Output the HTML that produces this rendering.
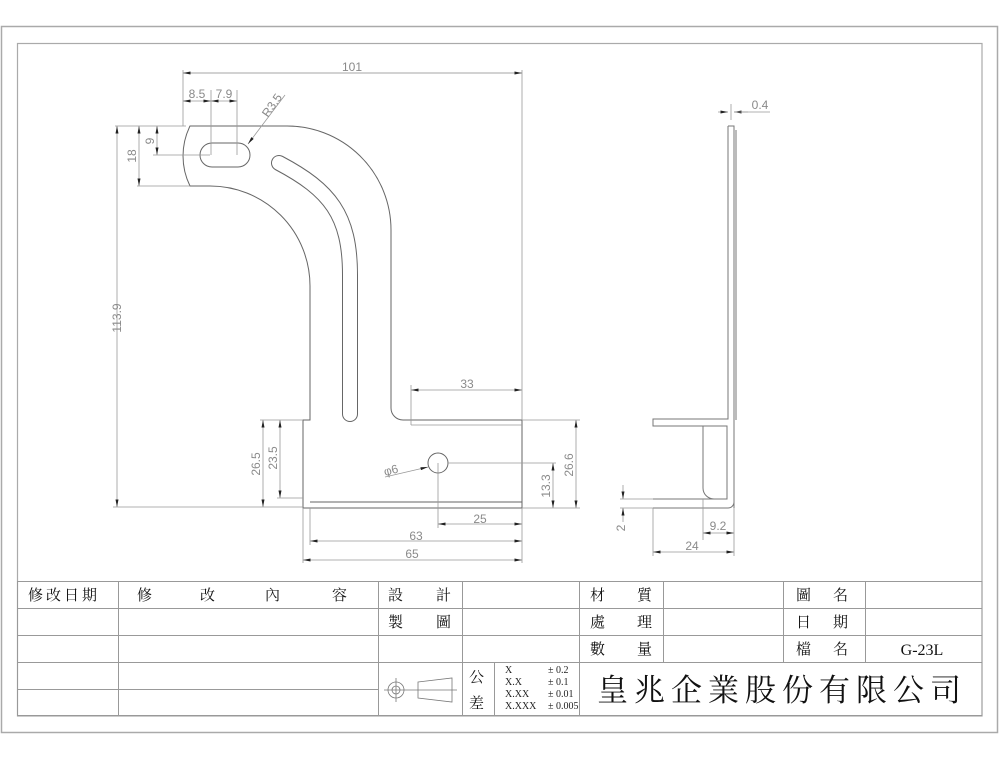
<!DOCTYPE html>
<html><head><meta charset="utf-8"><style>
html,body{margin:0;padding:0;background:#fff;}
svg{display:block;}
.d{font-family:"Liberation Sans",sans-serif;font-size:12px;fill:#8a8a8a;}
.c{font-family:"Liberation Serif","Noto Serif CJK SC",serif;font-size:15px;fill:#111;}
.t{font-family:"Liberation Serif",serif;font-size:10px;fill:#222;}
</style></head><body>
<svg width="999" height="758" viewBox="0 0 999 758" xmlns="http://www.w3.org/2000/svg">
<defs>
<marker id="a" viewBox="0 0 10 4" refX="10" refY="2" markerWidth="8" markerHeight="3" orient="auto-start-reverse" markerUnits="userSpaceOnUse"><path d="M0,0L10,2L0,4z" fill="#222"/></marker>
</defs>
<rect x="1.5" y="26.5" width="996" height="706" fill="none" stroke="#aaa" stroke-width="1.5"/>
<rect x="17.5" y="43.5" width="964.5" height="672.5" fill="none" stroke="#aaa" stroke-width="1.2"/>

<g fill="none" stroke="#666" stroke-width="1">
<path d="M190,126 H285 A104,104 0 0 1 391,230 V408 A12,12 0 0 0 403,420 H522 V508 H303 V420 H310 V286 A100,100 0 0 0 210,186 H190 A68,68 0 0 1 190,126 Z"/>
<path d="M310,502 H522"/>
<path d="M212,143 H238 A12,12 0 0 1 238,167 H212 A12,12 0 0 1 212,143 Z"/>
<circle cx="438" cy="463" r="10"/>
</g>
<path d="M279,163 C330,190 350,215 350,275 V414" fill="none" stroke="#666" stroke-width="16" stroke-linecap="round"/>
<path d="M279,163 C330,190 350,215 350,275 V414" fill="none" stroke="#fff" stroke-width="14" stroke-linecap="round"/>

<g fill="none" stroke="#999" stroke-width="0.8">
<path d="M183,70 V126 M522,70 V420"/>
<path d="M183,73 H522" stroke="#888" marker-start="url(#a)" marker-end="url(#a)"/>
<path d="M211,90 V155 M237,90 V155"/>
<path d="M183,101 H211" marker-start="url(#a)" marker-end="url(#a)"/>
<path d="M211,101 H237" marker-start="url(#a)" marker-end="url(#a)"/>
<path d="M285,95 L248,144" marker-end="url(#a)"/>
<path d="M115,126 H186 M113,507 H303 M137,186 H190 M153,155 H210"/>
<path d="M117,126 V507" marker-start="url(#a)" marker-end="url(#a)"/>
<path d="M139,126 V186" marker-start="url(#a)" marker-end="url(#a)"/>
<path d="M157,126 V155" marker-start="url(#a)" marker-end="url(#a)"/>
<path d="M260,420 H303 M277,498 H303"/>
<path d="M263,420 V507" marker-start="url(#a)" marker-end="url(#a)"/>
<path d="M280,420 V498" marker-start="url(#a)" marker-end="url(#a)"/>
<path d="M411,385 V425 M411,425 H522"/>
<path d="M411,390 H522" marker-start="url(#a)" marker-end="url(#a)"/>
<path d="M385,477 L428,467" marker-end="url(#a)"/>
<path d="M448,463 H556 M522,420 H580 M522,508 H580"/>
<path d="M553,463 V508" marker-start="url(#a)" marker-end="url(#a)"/>
<path d="M576,420 V508" marker-start="url(#a)" marker-end="url(#a)"/>
<path d="M438,463 V528 M303,508 V563 M310,508 V545 M522,508 V563"/>
<path d="M438,524 H522" marker-start="url(#a)" marker-end="url(#a)"/>
<path d="M310,541 H522" marker-start="url(#a)" marker-end="url(#a)"/>
<path d="M303,560 H522" marker-start="url(#a)" marker-end="url(#a)"/>
</g>
<g class="d">
<text x="352" y="71" text-anchor="middle">101</text>
<text x="197" y="98" text-anchor="middle">8.5</text>
<text x="224" y="98" text-anchor="middle">7.9</text>
<text transform="translate(268,118) rotate(-55)">R3.5</text>
<text transform="translate(121,318) rotate(-90)" text-anchor="middle">113.9</text>
<text transform="translate(136,156) rotate(-90)" text-anchor="middle">18</text>
<text transform="translate(154,141) rotate(-90)" text-anchor="middle">9</text>
<text transform="translate(260,464) rotate(-90)" text-anchor="middle">26.5</text>
<text transform="translate(277,458) rotate(-90)" text-anchor="middle">23.5</text>
<text x="467" y="388" text-anchor="middle">33</text>
<text transform="translate(385,476) rotate(-15)">φ6</text>
<text transform="translate(550,486) rotate(-90)" text-anchor="middle">13.3</text>
<text transform="translate(573,465) rotate(-90)" text-anchor="middle">26.6</text>
<text x="480" y="523" text-anchor="middle">25</text>
<text x="416" y="540" text-anchor="middle">63</text>
<text x="412" y="558" text-anchor="middle">65</text>
</g>

<g fill="none" stroke="#777" stroke-width="1">
<path d="M728,126 H734 V508 M728,126 V419 H653 V426 H727 V499 H653 M734,502 A6,6 0 0 1 728,508 H653"/>
<path d="M703,426 V488 A11,11 0 0 0 714,499"/>
<path d="M736,130 V420"/>
</g>
<g fill="none" stroke="#999" stroke-width="0.8">
<path d="M731,104 V120 M718,112 H728" marker-end="url(#a)"/>
<path d="M748,112 H734" marker-end="url(#a)"/>
<path d="M734,112 H770"/>
<path d="M620,499 H653 M620,508 H653"/>
<path d="M623,485 V499" marker-end="url(#a)"/>
<path d="M623,522 V508" marker-end="url(#a)"/>
<path d="M653,508 V556 M703,499 V540 M734,508 V556"/>
<path d="M703,533 H734" marker-start="url(#a)" marker-end="url(#a)"/>
<path d="M653,552 H734" marker-start="url(#a)" marker-end="url(#a)"/>
</g>
<g class="d">
<text x="760" y="109" text-anchor="middle">0.4</text>
<text transform="translate(625,528) rotate(-90)" text-anchor="middle">2</text>
<text x="718" y="530" text-anchor="middle">9.2</text>
<text x="692" y="550" text-anchor="middle">24</text>
</g>

<g fill="none" stroke="#999" stroke-width="1">
<rect x="17.5" y="581.5" width="964.5" height="134"/>
<path d="M17,608.5 H982 M17,635.5 H982 M17,662.5 H982 M17,689.5 H378"/>
<path d="M118.5,581 V716 M378.5,581 V716 M462.5,581 V716 M579.5,581 V716 M663.5,581 V662 M783.5,581 V662 M865.5,581 V662 M494.5,662 V716"/>
</g>
<g class="c">
<text x="28" y="600" letter-spacing="3">修改日期</text>
<text x="137" y="600">修</text><text x="200" y="600">改</text><text x="265" y="600">內</text><text x="332" y="600">容</text>
<text x="388" y="600">設</text><text x="436" y="600">計</text>
<text x="388" y="627">製</text><text x="436" y="627">圖</text>
<text x="590" y="600">材</text><text x="637" y="600">質</text>
<text x="590" y="627">處</text><text x="637" y="627">理</text>
<text x="590" y="654">數</text><text x="637" y="654">量</text>
<text x="796" y="600">圖</text><text x="833" y="600">名</text>
<text x="796" y="627">日</text><text x="833" y="627">期</text>
<text x="796" y="654">檔</text><text x="833" y="654">名</text>
<text x="922" y="655" text-anchor="middle" font-family="Liberation Serif,serif" font-size="16">G-23L</text>
<text x="469" y="682">公</text><text x="469" y="708">差</text>
<text x="597" y="701" font-size="31" letter-spacing="6">皇兆企業股份有限公司</text>
</g>
<g class="t">
<text x="505" y="673">X</text><text x="548" y="673">± 0.2</text>
<text x="505" y="685">X.X</text><text x="548" y="685">± 0.1</text>
<text x="505" y="697">X.XX</text><text x="548" y="697">± 0.01</text>
<text x="505" y="709">X.XXX</text><text x="548" y="709">± 0.005</text>
</g>
<g fill="none" stroke="#777" stroke-width="0.8">
<circle cx="396" cy="690" r="8"/><circle cx="396" cy="690" r="4"/>
<path d="M384,690 H408 M396,678 V702 M408,690 H413"/>
<path d="M418,682 L452,678 V702 L418,698 Z M413,690 H457"/>
</g>
</svg>
</body></html>
